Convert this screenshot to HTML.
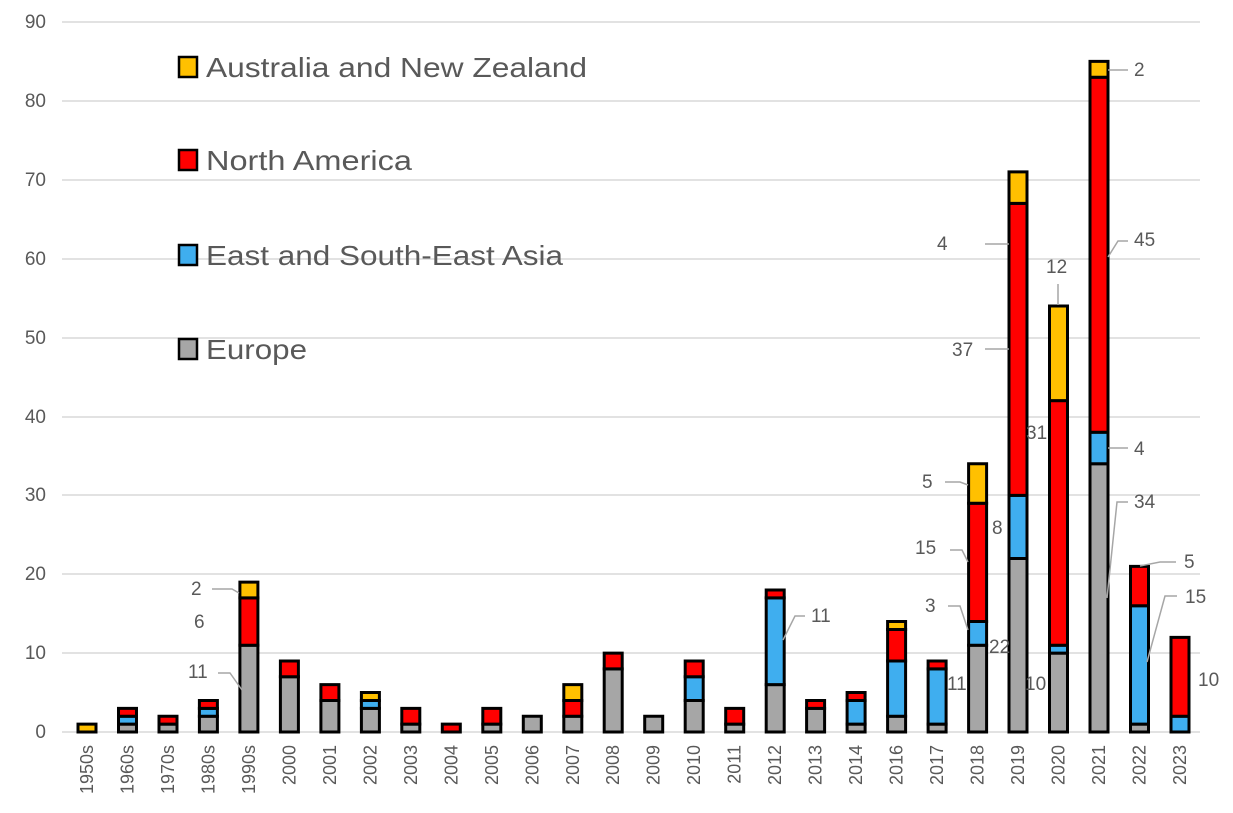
<!DOCTYPE html>
<html><head><meta charset="utf-8"><style>
html,body{margin:0;padding:0;background:#fff;}
svg{display:block;font-family:"Liberation Sans",sans-serif;}
</style></head><body>
<svg width="1233" height="813" viewBox="0 0 1233 813" xmlns="http://www.w3.org/2000/svg">
<g stroke="#d9d9d9" stroke-width="1.5">
<line x1="62" x2="1200" y1="22" y2="22"/><line x1="62" x2="1200" y1="101" y2="101"/><line x1="62" x2="1200" y1="180" y2="180"/><line x1="62" x2="1200" y1="259" y2="259"/><line x1="62" x2="1200" y1="338" y2="338"/><line x1="62" x2="1200" y1="417" y2="417"/><line x1="62" x2="1200" y1="495" y2="495"/><line x1="62" x2="1200" y1="574" y2="574"/><line x1="62" x2="1200" y1="653" y2="653"/><line x1="62" x2="1200" y1="732" y2="732"/>
</g>
<g fill="#595959" font-size="19" text-anchor="end">
<text x="46" y="28">90</text><text x="46" y="107">80</text><text x="46" y="186">70</text><text x="46" y="265">60</text><text x="46" y="344">50</text><text x="46" y="423">40</text><text x="46" y="501">30</text><text x="46" y="580">20</text><text x="46" y="659">10</text><text x="46" y="738">0</text>
</g>
<g transform="translate(0,732) scale(1,-7.889)" stroke="#000" stroke-width="3">
<rect x="78" y="0" width="18" height="1" fill="#FFC000" vector-effect="non-scaling-stroke"/>
<rect x="118.5" y="0" width="18" height="1" fill="#A6A6A6" vector-effect="non-scaling-stroke"/><rect x="118.5" y="1" width="18" height="1" fill="#3FAEEF" vector-effect="non-scaling-stroke"/><rect x="118.5" y="2" width="18" height="1" fill="#FF0000" vector-effect="non-scaling-stroke"/>
<rect x="159" y="0" width="18" height="1" fill="#A6A6A6" vector-effect="non-scaling-stroke"/><rect x="159" y="1" width="18" height="1" fill="#FF0000" vector-effect="non-scaling-stroke"/>
<rect x="199.4" y="0" width="18" height="2" fill="#A6A6A6" vector-effect="non-scaling-stroke"/><rect x="199.4" y="2" width="18" height="1" fill="#3FAEEF" vector-effect="non-scaling-stroke"/><rect x="199.4" y="3" width="18" height="1" fill="#FF0000" vector-effect="non-scaling-stroke"/>
<rect x="239.9" y="0" width="18" height="11" fill="#A6A6A6" vector-effect="non-scaling-stroke"/><rect x="239.9" y="11" width="18" height="6" fill="#FF0000" vector-effect="non-scaling-stroke"/><rect x="239.9" y="17" width="18" height="2" fill="#FFC000" vector-effect="non-scaling-stroke"/>
<rect x="280.4" y="0" width="18" height="7" fill="#A6A6A6" vector-effect="non-scaling-stroke"/><rect x="280.4" y="7" width="18" height="2" fill="#FF0000" vector-effect="non-scaling-stroke"/>
<rect x="320.9" y="0" width="18" height="4" fill="#A6A6A6" vector-effect="non-scaling-stroke"/><rect x="320.9" y="4" width="18" height="2" fill="#FF0000" vector-effect="non-scaling-stroke"/>
<rect x="361.4" y="0" width="18" height="3" fill="#A6A6A6" vector-effect="non-scaling-stroke"/><rect x="361.4" y="3" width="18" height="1" fill="#3FAEEF" vector-effect="non-scaling-stroke"/><rect x="361.4" y="4" width="18" height="1" fill="#FFC000" vector-effect="non-scaling-stroke"/>
<rect x="401.8" y="0" width="18" height="1" fill="#A6A6A6" vector-effect="non-scaling-stroke"/><rect x="401.8" y="1" width="18" height="2" fill="#FF0000" vector-effect="non-scaling-stroke"/>
<rect x="442.3" y="0" width="18" height="1" fill="#FF0000" vector-effect="non-scaling-stroke"/>
<rect x="482.8" y="0" width="18" height="1" fill="#A6A6A6" vector-effect="non-scaling-stroke"/><rect x="482.8" y="1" width="18" height="2" fill="#FF0000" vector-effect="non-scaling-stroke"/>
<rect x="523.3" y="0" width="18" height="2" fill="#A6A6A6" vector-effect="non-scaling-stroke"/>
<rect x="563.8" y="0" width="18" height="2" fill="#A6A6A6" vector-effect="non-scaling-stroke"/><rect x="563.8" y="2" width="18" height="2" fill="#FF0000" vector-effect="non-scaling-stroke"/><rect x="563.8" y="4" width="18" height="2" fill="#FFC000" vector-effect="non-scaling-stroke"/>
<rect x="604.2" y="0" width="18" height="8" fill="#A6A6A6" vector-effect="non-scaling-stroke"/><rect x="604.2" y="8" width="18" height="2" fill="#FF0000" vector-effect="non-scaling-stroke"/>
<rect x="644.7" y="0" width="18" height="2" fill="#A6A6A6" vector-effect="non-scaling-stroke"/>
<rect x="685.2" y="0" width="18" height="4" fill="#A6A6A6" vector-effect="non-scaling-stroke"/><rect x="685.2" y="4" width="18" height="3" fill="#3FAEEF" vector-effect="non-scaling-stroke"/><rect x="685.2" y="7" width="18" height="2" fill="#FF0000" vector-effect="non-scaling-stroke"/>
<rect x="725.7" y="0" width="18" height="1" fill="#A6A6A6" vector-effect="non-scaling-stroke"/><rect x="725.7" y="1" width="18" height="2" fill="#FF0000" vector-effect="non-scaling-stroke"/>
<rect x="766.2" y="0" width="18" height="6" fill="#A6A6A6" vector-effect="non-scaling-stroke"/><rect x="766.2" y="6" width="18" height="11" fill="#3FAEEF" vector-effect="non-scaling-stroke"/><rect x="766.2" y="17" width="18" height="1" fill="#FF0000" vector-effect="non-scaling-stroke"/>
<rect x="806.6" y="0" width="18" height="3" fill="#A6A6A6" vector-effect="non-scaling-stroke"/><rect x="806.6" y="3" width="18" height="1" fill="#FF0000" vector-effect="non-scaling-stroke"/>
<rect x="847.1" y="0" width="18" height="1" fill="#A6A6A6" vector-effect="non-scaling-stroke"/><rect x="847.1" y="1" width="18" height="3" fill="#3FAEEF" vector-effect="non-scaling-stroke"/><rect x="847.1" y="4" width="18" height="1" fill="#FF0000" vector-effect="non-scaling-stroke"/>
<rect x="887.6" y="0" width="18" height="2" fill="#A6A6A6" vector-effect="non-scaling-stroke"/><rect x="887.6" y="2" width="18" height="7" fill="#3FAEEF" vector-effect="non-scaling-stroke"/><rect x="887.6" y="9" width="18" height="4" fill="#FF0000" vector-effect="non-scaling-stroke"/><rect x="887.6" y="13" width="18" height="1" fill="#FFC000" vector-effect="non-scaling-stroke"/>
<rect x="928.1" y="0" width="18" height="1" fill="#A6A6A6" vector-effect="non-scaling-stroke"/><rect x="928.1" y="1" width="18" height="7" fill="#3FAEEF" vector-effect="non-scaling-stroke"/><rect x="928.1" y="8" width="18" height="1" fill="#FF0000" vector-effect="non-scaling-stroke"/>
<rect x="968.6" y="0" width="18" height="11" fill="#A6A6A6" vector-effect="non-scaling-stroke"/><rect x="968.6" y="11" width="18" height="3" fill="#3FAEEF" vector-effect="non-scaling-stroke"/><rect x="968.6" y="14" width="18" height="15" fill="#FF0000" vector-effect="non-scaling-stroke"/><rect x="968.6" y="29" width="18" height="5" fill="#FFC000" vector-effect="non-scaling-stroke"/>
<rect x="1009" y="0" width="18" height="22" fill="#A6A6A6" vector-effect="non-scaling-stroke"/><rect x="1009" y="22" width="18" height="8" fill="#3FAEEF" vector-effect="non-scaling-stroke"/><rect x="1009" y="30" width="18" height="37" fill="#FF0000" vector-effect="non-scaling-stroke"/><rect x="1009" y="67" width="18" height="4" fill="#FFC000" vector-effect="non-scaling-stroke"/>
<rect x="1049.5" y="0" width="18" height="10" fill="#A6A6A6" vector-effect="non-scaling-stroke"/><rect x="1049.5" y="10" width="18" height="1" fill="#3FAEEF" vector-effect="non-scaling-stroke"/><rect x="1049.5" y="11" width="18" height="31" fill="#FF0000" vector-effect="non-scaling-stroke"/><rect x="1049.5" y="42" width="18" height="12" fill="#FFC000" vector-effect="non-scaling-stroke"/>
<rect x="1090" y="0" width="18" height="34" fill="#A6A6A6" vector-effect="non-scaling-stroke"/><rect x="1090" y="34" width="18" height="4" fill="#3FAEEF" vector-effect="non-scaling-stroke"/><rect x="1090" y="38" width="18" height="45" fill="#FF0000" vector-effect="non-scaling-stroke"/><rect x="1090" y="83" width="18" height="2" fill="#FFC000" vector-effect="non-scaling-stroke"/>
<rect x="1130.5" y="0" width="18" height="1" fill="#A6A6A6" vector-effect="non-scaling-stroke"/><rect x="1130.5" y="1" width="18" height="15" fill="#3FAEEF" vector-effect="non-scaling-stroke"/><rect x="1130.5" y="16" width="18" height="5" fill="#FF0000" vector-effect="non-scaling-stroke"/>
<rect x="1171" y="0" width="18" height="2" fill="#3FAEEF" vector-effect="non-scaling-stroke"/><rect x="1171" y="2" width="18" height="10" fill="#FF0000" vector-effect="non-scaling-stroke"/>
</g>
<g fill="#595959" font-size="18" text-anchor="end">
<text transform="translate(93,745) rotate(-90)">1950s</text><text transform="translate(133.5,745) rotate(-90)">1960s</text><text transform="translate(174,745) rotate(-90)">1970s</text><text transform="translate(214.4,745) rotate(-90)">1980s</text><text transform="translate(254.9,745) rotate(-90)">1990s</text><text transform="translate(295.4,745) rotate(-90)">2000</text><text transform="translate(335.9,745) rotate(-90)">2001</text><text transform="translate(376.4,745) rotate(-90)">2002</text><text transform="translate(416.8,745) rotate(-90)">2003</text><text transform="translate(457.3,745) rotate(-90)">2004</text><text transform="translate(497.8,745) rotate(-90)">2005</text><text transform="translate(538.3,745) rotate(-90)">2006</text><text transform="translate(578.8,745) rotate(-90)">2007</text><text transform="translate(619.2,745) rotate(-90)">2008</text><text transform="translate(659.7,745) rotate(-90)">2009</text><text transform="translate(700.2,745) rotate(-90)">2010</text><text transform="translate(740.7,745) rotate(-90)">2011</text><text transform="translate(781.2,745) rotate(-90)">2012</text><text transform="translate(821.6,745) rotate(-90)">2013</text><text transform="translate(862.1,745) rotate(-90)">2014</text><text transform="translate(902.6,745) rotate(-90)">2016</text><text transform="translate(943.1,745) rotate(-90)">2017</text><text transform="translate(983.6,745) rotate(-90)">2018</text><text transform="translate(1024,745) rotate(-90)">2019</text><text transform="translate(1064.5,745) rotate(-90)">2020</text><text transform="translate(1105,745) rotate(-90)">2021</text><text transform="translate(1145.5,745) rotate(-90)">2022</text><text transform="translate(1186,745) rotate(-90)">2023</text>
</g>
<g stroke="#000" stroke-width="2.5">
<rect x="179" y="57" width="18" height="20" fill="#FFC000"/>
<rect x="179" y="150" width="18" height="20" fill="#FF0000"/>
<rect x="179" y="245" width="18" height="20" fill="#3FAEEF"/>
<rect x="179" y="339" width="18" height="20" fill="#A6A6A6"/>
</g>
<g fill="#595959" font-size="28">
<text x="206" y="77" textLength="381" lengthAdjust="spacingAndGlyphs">Australia and New Zealand</text>
<text x="206" y="170" textLength="206" lengthAdjust="spacingAndGlyphs">North America</text>
<text x="206" y="265" textLength="357" lengthAdjust="spacingAndGlyphs">East and South-East Asia</text>
<text x="206" y="359" textLength="101" lengthAdjust="spacingAndGlyphs">Europe</text>
</g>
<g stroke="#a6a6a6" stroke-width="1.5" fill="none">
<polyline points="212,589 232,589 239,593"/>
<polyline points="218,673 230,673 242,690"/>
<polyline points="783,640 795,616 805,616"/>
<polyline points="945,482 960,482 968,485"/>
<polyline points="950,550 962,550 968,562"/>
<polyline points="948,606 960,606 968,630"/>
<polyline points="985,349 1009,349"/>
<polyline points="985,244 1009,244"/>
<polyline points="1058,284 1058,305"/>
<polyline points="1108,257 1118,241 1128,241"/>
<polyline points="1108,448 1128,448"/>
<polyline points="1107,598 1117,502 1128,502"/>
<polyline points="1108,70 1128,70"/>
<polyline points="1140,566 1160,562 1176,562"/>
<polyline points="1147,662 1165,596 1177,596"/>
</g>
<g fill="#595959" font-size="19">
<text x="191" y="595">2</text>
<text x="194" y="628">6</text>
<text x="188" y="678">11</text>
<text x="811" y="622">11</text>
<text x="947" y="690">11</text>
<text x="922" y="488">5</text>
<text x="915" y="554">15</text>
<text x="925" y="612">3</text>
<text x="989" y="653">22</text>
<text x="1025" y="690">10</text>
<text x="992" y="534">8</text>
<text x="952" y="356">37</text>
<text x="937" y="250">4</text>
<text x="1026" y="439">31</text>
<text x="1046" y="273">12</text>
<text x="1134" y="246">45</text>
<text x="1134" y="455">4</text>
<text x="1134" y="508">34</text>
<text x="1134" y="76">2</text>
<text x="1184" y="568">5</text>
<text x="1185" y="603">15</text>
<text x="1198" y="686">10</text>
</g>
</svg>
</body></html>
